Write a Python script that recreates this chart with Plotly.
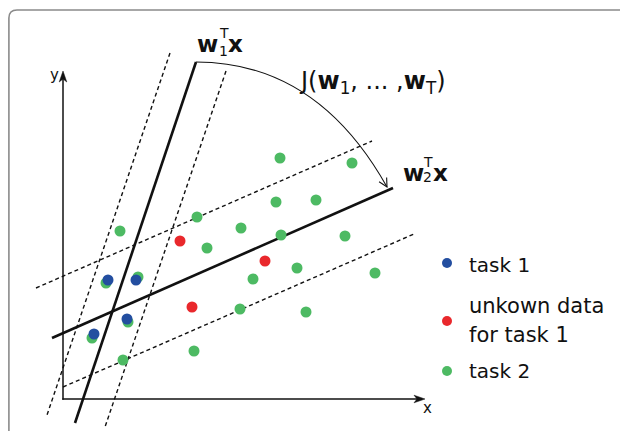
import numpy as np
import plotly.graph_objects as go

# ---------------- data (axis units, origin at the axes corner) ----------------
task2_x = [21.7, 28.9, 21.3, 25.3, 13.4, 17.8, 21.8, 5.7, 14.4, 28.2, 23.4, 19.0,
           31.2, 17.7, 24.3, 13.1, 6.0, 4.3, 7.5, 6.5, 2.9]
task2_y = [24.1, 23.6, 19.7, 19.9, 18.2, 17.1, 16.4, 16.8, 15.1, 16.3, 13.1, 12.0,
           12.6, 9.0, 8.7, 4.8, 3.9, 11.6, 12.2, 7.7, 6.1]
task1_x = [4.5, 7.3, 6.4, 3.1]
task1_y = [11.9, 11.9, 8.0, 6.5]
unknown_x = [11.7, 20.2, 12.9]
unknown_y = [15.8, 13.8, 9.2]

# separating lines (end points) and their margins
w1_x = [13.3, 1.2]
w1_y = [33.7, -2.4]
w1_margin_a_x = [10.7, -1.6]
w1_margin_a_y = [34.6, -1.6]
w1_margin_b_x = [16.3, 4.2]
w1_margin_b_y = [32.8, -2.8]
w2_x = [-1.1, 33.0]
w2_y = [6.1, 21.1]
w2_margin_a_x = [-2.7, 30.9]
w2_margin_a_y = [11.1, 25.8]
w2_margin_b_x = [0.0, 35.1]
w2_margin_b_y = [1.2, 16.5]

legend_labels = ["task 1", "unkown data", "for task 1", "task 2"]

BLUE = "#234ea0"
RED = "#e9282c"
GREEN = "#4dba63"
INK = "#111111"
FONT = "DejaVu Sans"

# the page shows the figure 8px in from the top-left corner
OFF = 8
W, H = 628, 431

# screen pixel -> axis units helper (for decorations / labels only)
def U(xp, yp):
    return (xp - 63) / 10.0, (399 - yp) / 10.0

fig = go.Figure()

def add_line(xs, ys, width, dash=None):
    fig.add_trace(go.Scatter(x=xs, y=ys, mode="lines",
                             line=dict(color=INK, width=width, dash=dash),
                             hoverinfo="skip"))

for xs, ys in [(w1_margin_a_x, w1_margin_a_y), (w1_margin_b_x, w1_margin_b_y),
               (w2_margin_a_x, w2_margin_a_y), (w2_margin_b_x, w2_margin_b_y)]:
    add_line(xs, ys, 1.4, "4px,3px")
add_line(w1_x, w1_y, 2.6)
add_line(w2_x, w2_y, 2.6)

MS = 11
fig.add_trace(go.Scatter(x=task2_x, y=task2_y, mode="markers",
                         marker=dict(color=GREEN, size=MS, line=dict(width=0))))
fig.add_trace(go.Scatter(x=task1_x, y=task1_y, mode="markers",
                         marker=dict(color=BLUE, size=MS, line=dict(width=0))))
fig.add_trace(go.Scatter(x=unknown_x, y=unknown_y, mode="markers",
                         marker=dict(color=RED, size=MS, line=dict(width=0))))

# legend dots
lx, _ = U(447, 0)
leg_y = [U(0, 263)[1], U(0, 321)[1], U(0, 371)[1]]
fig.add_trace(go.Scatter(x=[lx, lx, lx], y=leg_y, mode="markers",
                         marker=dict(color=[BLUE, RED, GREEN], size=10, line=dict(width=0))))

shapes = []
# axes
ox, oy = 0.0, 0.0
ytip = U(63, 71)
xtip = U(425, 399)
shapes.append(dict(type="line", x0=ox, y0=oy - 0.07, x1=ox, y1=ytip[1] - 0.6,
                   line=dict(color=INK, width=1.5)))
shapes.append(dict(type="line", x0=ox - 0.07, y0=oy, x1=xtip[0] - 0.6, y1=oy,
                   line=dict(color=INK, width=1.5)))
hl, hw, nb = 1.1, 0.38, 0.8
shapes.append(dict(type="path",
                   path=f"M {ox},{ytip[1]} L {ox-hw},{ytip[1]-hl} L {ox},{ytip[1]-nb} L {ox+hw},{ytip[1]-hl} Z",
                   fillcolor=INK, line=dict(color=INK, width=0.5)))
shapes.append(dict(type="path",
                   path=f"M {xtip[0]},{oy} L {xtip[0]-hl},{oy+hw} L {xtip[0]-nb},{oy} L {xtip[0]-hl},{oy-hw} Z",
                   fillcolor=INK, line=dict(color=INK, width=0.5)))

# arc J(...) from w1 to w2
a0 = np.array(U(196, 62))
ac = np.array(U(317, 62))
a1 = np.array(U(387, 187))
shapes.append(dict(type="path",
                   path=f"M {a0[0]},{a0[1]} Q {ac[0]},{ac[1]} {a1[0]},{a1[1]}",
                   line=dict(color=INK, width=1.1)))
d = (a1 - ac) / np.linalg.norm(a1 - ac)
arms = []
for ang in (np.radians(27), np.radians(-27)):
    r = np.array([[np.cos(ang), -np.sin(ang)], [np.sin(ang), np.cos(ang)]])
    arms.append(a1 - 0.95 * (r @ d))
shapes.append(dict(type="path",
                   path=f"M {arms[0][0]},{arms[0][1]} L {a1[0]},{a1[1]} L {arms[1][0]},{arms[1][1]}",
                   line=dict(color=INK, width=1.1)))

# frame (top and left edges with rounded corner), in screen pixels
def P(xp, yp):
    return (xp - OFF) / W, 1 - (yp - OFF) / H

fx0, fy0 = P(8.9, 10)
fxr, fyr = P(17, 18)
shapes.append(dict(type="path", xref="paper", yref="paper",
                   path=f"M {fx0},-0.05 L {fx0},{fyr} Q {fx0},{fy0} {fxr},{fy0} L 1.05,{fy0}",
                   line=dict(color="#8a8a8a", width=1.6)))

annotations = []

def label(text, xp, yp, size):
    x, y = U(xp, yp)
    annotations.append(dict(x=x, y=y, text=text, showarrow=False,
                            xanchor="left", yanchor="middle",
                            font=dict(family=FONT, size=size, color=INK)))

# w1^T x
label("<b>w</b>", 195, 44, 23)
label("T", 217, 33, 14)
label("1", 217, 51, 14)
label("<b>x</b>", 226, 44, 23)
# w2^T x
label("<b>w</b>", 401, 173, 23)
label("T", 421, 162, 14)
label("2", 421, 177, 14)
label("<b>x</b>", 431, 173, 23)
# J(...)
label("J(<b>w</b><sub>1</sub>, ... ,<b>w</b><sub>T</sub>)", 297, 82, 24)
# axis labels
label("y", 48, 75, 15)
label("x", 421, 408, 15)
# legend text
label(legend_labels[0], 467, 265, 20)
label(legend_labels[1], 467, 306, 21)
label(legend_labels[2], 467, 335, 21)
label(legend_labels[3], 467, 371, 20)

# axis ranges chosen so that axis units map onto the screen pixels used above
x_lo, x_hi = U(OFF, 0)[0], U(OFF + W, 0)[0]
y_hi, y_lo = U(0, OFF)[1], U(0, OFF + H)[1]

fig.update_layout(
    width=W, height=H,
    margin=dict(l=0, r=0, t=0, b=0),
    paper_bgcolor="white", plot_bgcolor="white",
    showlegend=False,
    xaxis=dict(range=[x_lo, x_hi], visible=False, fixedrange=True),
    yaxis=dict(range=[y_lo, y_hi], visible=False, fixedrange=True),
    shapes=shapes, annotations=annotations,
)

fig.write_html("out.html")
